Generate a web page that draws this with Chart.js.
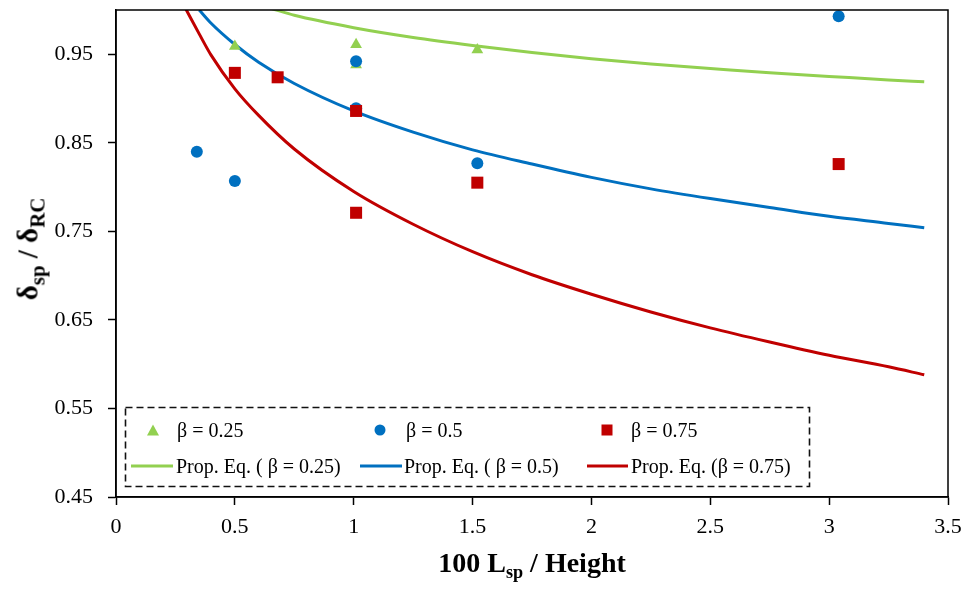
<!DOCTYPE html>
<html>
<head>
<meta charset="utf-8">
<script src="https://cdn.jsdelivr.net/npm/chart.js@4.4.1/dist/chart.umd.min.js"></script>
<style>
  html, body { margin: 0; padding: 0; background: #fff; }
  #wrap { position: relative; width: 972px; height: 592px; font-family: "Liberation Serif", "Times New Roman", serif; }
  canvas { position: absolute; left: 0; top: 0; }
  .ytitle { position: absolute; left: 28px; top: 249px; transform: translate(-50%, -50%) rotate(-90deg); font-weight: bold; font-size: 29px; white-space: nowrap; color: #000; }
  .ytitle sub { font-size: 72%; }
  .xtitle { position: absolute; left: 532px; top: 563px; transform: translate(-50%, -50%); font-weight: bold; font-size: 28px; white-space: nowrap; color: #000; }
  sub { font-size: 65%; vertical-align: -0.35em; line-height: 0; }
  #legend { position: absolute; left: 125px; top: 407px; width: 684px; height: 79px; font-size: 20px; color: #000; }
  .item { position: absolute; white-space: nowrap; transform: translateY(-50%); }
  .mark { position: absolute; transform: translate(-50%, -50%); }
  .ln { position: absolute; height: 3px; transform: translateY(-50%); }
</style>
</head>
<body>
<div id="wrap">
  <canvas id="c" width="972" height="592"></canvas>
  <div class="ytitle">δ<sub>sp</sub> / δ<sub>RC</sub></div>
  <div class="xtitle">100 L<sub>sp</sub> / Height</div>
  <div id="legend"></div>
</div>
<script>
// ---- Data ----
const xTicks = [0, 0.5, 1, 1.5, 2, 2.5, 3, 3.5];
const yTicks = [0.45, 0.55, 0.65, 0.75, 0.85, 0.95];

// Test points
const b025X = [0.50, 1.01, 1.01, 1.52];
const b025Y = [0.959, 0.961, 0.938, 0.955];
const b05X  = [0.34, 0.50, 1.01, 1.01, 1.52, 3.04];
const b05Y  = [0.840, 0.807, 0.942, 0.889, 0.827, 0.993];
const b075X = [0.50, 0.68, 1.01, 1.01, 1.52, 3.04];
const b075Y = [0.929, 0.924, 0.886, 0.771, 0.805, 0.826];

// Proposed-equation curves
const eq025X = [0.65, 0.75, 1.0, 1.25, 1.5, 1.75, 2.0, 2.25, 2.5, 2.75, 3.0, 3.25, 3.4];
const eq025Y = [1.002, 0.994, 0.980, 0.969, 0.960, 0.952, 0.945, 0.939, 0.934, 0.929, 0.925, 0.921, 0.919];
const eq05X  = [0.35, 0.4, 0.5, 0.6, 0.75, 1.0, 1.25, 1.5, 1.75, 2.0, 2.25, 2.5, 2.75, 3.0, 3.25, 3.4];
const eq05Y  = [1.000, 0.985, 0.961, 0.941, 0.917, 0.886, 0.862, 0.842, 0.826, 0.811, 0.798, 0.787, 0.777, 0.767, 0.759, 0.754];
const eq075X = [0.29, 0.35, 0.4, 0.5, 0.6, 0.75, 1.0, 1.25, 1.5, 1.75, 2.0, 2.25, 2.5, 2.75, 3.0, 3.25, 3.4];
const eq075Y = [1.003, 0.973, 0.949, 0.911, 0.881, 0.843, 0.795, 0.758, 0.727, 0.701, 0.679, 0.659, 0.641, 0.625, 0.610, 0.597, 0.588];

const GREEN = '#92D050', BLUE = '#0070C0', RED = '#C00000';
const pts = (xs, ys) => xs.map((x, i) => ({ x: x, y: ys[i] }));

const boxPlugin = {
  id: 'box',
  afterDraw(chart) {
    const a = chart.chartArea, ctx = chart.ctx;
    ctx.save();
    ctx.strokeStyle = '#000';
    ctx.lineWidth = 1.5;
    ctx.strokeRect(a.left, a.top, a.right - a.left, a.bottom - a.top);
    // dashed legend frame
    ctx.lineWidth = 1.6;
    ctx.setLineDash([7, 4]);
    ctx.strokeStyle = '#111';
    ctx.strokeRect(125.5, 407.5, 684, 79);
    ctx.restore();
  }
};

new Chart(document.getElementById('c'), {
  type: 'scatter',
  data: {
    datasets: [
      { label: 'β = 0.75', data: pts(b075X, b075Y), order: 0, pointStyle: 'rect', pointRadius: 8.5, backgroundColor: RED, borderColor: RED, borderWidth: 0, showLine: false },
      { label: 'β = 0.5', data: pts(b05X, b05Y), order: 1, pointStyle: 'circle', pointRadius: 6, backgroundColor: BLUE, borderColor: BLUE, borderWidth: 0, showLine: false },
      { label: 'β = 0.25', data: pts(b025X, b025Y), order: 2, pointStyle: 'triangle', pointRadius: 6.8, backgroundColor: GREEN, borderColor: GREEN, borderWidth: 0, showLine: false },
      { label: 'Prop. Eq. ( β = 0.25)', data: pts(eq025X, eq025Y), order: 3, showLine: true, pointRadius: 0, borderColor: GREEN, borderWidth: 3, cubicInterpolationMode: 'monotone' },
      { label: 'Prop. Eq. ( β = 0.5)', data: pts(eq05X, eq05Y), order: 4, showLine: true, pointRadius: 0, borderColor: BLUE, borderWidth: 3, cubicInterpolationMode: 'monotone' },
      { label: 'Prop. Eq. (β = 0.75)', data: pts(eq075X, eq075Y), order: 5, showLine: true, pointRadius: 0, borderColor: RED, borderWidth: 3, cubicInterpolationMode: 'monotone' }
    ]
  },
  options: {
    responsive: false,
    animation: false,
    layout: { padding: { left: 0, top: 10, right: 24, bottom: 0 } },
    plugins: { legend: { display: false }, tooltip: { enabled: false } },
    scales: {
      x: {
        type: 'linear', min: 0, max: 3.5,
        afterBuildTicks: s => { s.ticks = xTicks.map(v => ({ value: v })); },
        afterFit: s => { s.height = 95; s.paddingLeft = 0; s.paddingRight = 0; },
        border: { display: true, color: '#000', width: 1.5 },
        grid: { drawOnChartArea: false, drawTicks: true, tickLength: 8, color: '#000', tickColor: '#000', tickWidth: 1.5 },
        ticks: { color: '#000', padding: 9, maxRotation: 0, font: { family: '"Liberation Serif", serif', size: 22 },
                 callback: v => String(v) }
      },
      y: {
        type: 'linear', min: 0.45, max: 1.0,
        afterBuildTicks: s => { s.ticks = yTicks.map(v => ({ value: v })); },
        afterFit: s => { s.width = 116; s.paddingTop = 0; s.paddingBottom = 0; },
        border: { display: true, color: '#000', width: 1.5 },
        grid: { drawOnChartArea: false, drawTicks: true, tickLength: 8, color: '#000', tickColor: '#000', tickWidth: 1.5 },
        ticks: { color: '#000', padding: 15, font: { family: '"Liberation Serif", serif', size: 22 },
                 callback: v => Number(v).toFixed(2) }
      }
    }
  },
  plugins: [boxPlugin]
});

// ---- HTML legend (inside plot area) ----
const legend = document.getElementById('legend');
const legendItems = [
  { kind: 'tri', color: GREEN, text: 'β = 0.25', mx: 28, tx: 52, y: 23 },
  { kind: 'circ', color: BLUE, text: 'β = 0.5', mx: 255, tx: 281, y: 23 },
  { kind: 'sq', color: RED, text: 'β = 0.75', mx: 482, tx: 506, y: 23 },
  { kind: 'line', color: GREEN, text: 'Prop. Eq. ( β = 0.25)', lx: 6, lw: 42, tx: 51, y: 59 },
  { kind: 'line', color: BLUE, text: 'Prop. Eq. ( β = 0.5)', lx: 235, lw: 42, tx: 279, y: 59 },
  { kind: 'line', color: RED, text: 'Prop. Eq. (β = 0.75)', lx: 462, lw: 41, tx: 506, y: 59 }
];
legendItems.forEach(it => {
  if (it.kind === 'line') {
    const l = document.createElement('div');
    l.className = 'ln';
    l.style.left = it.lx + 'px'; l.style.top = it.y + 'px'; l.style.width = it.lw + 'px'; l.style.background = it.color;
    legend.appendChild(l);
  } else {
    const m = document.createElement('div');
    m.className = 'mark';
    m.style.left = it.mx + 'px'; m.style.top = it.y + 'px';
    if (it.kind === 'tri') {
      m.style.width = '0'; m.style.height = '0';
      m.style.borderLeft = '6px solid transparent'; m.style.borderRight = '6px solid transparent';
      m.style.borderBottom = '11px solid ' + it.color;
    } else if (it.kind === 'circ') {
      m.style.width = '11px'; m.style.height = '11px'; m.style.borderRadius = '50%'; m.style.background = it.color;
    } else {
      m.style.width = '11px'; m.style.height = '11px'; m.style.background = it.color;
    }
    legend.appendChild(m);
  }
  const t = document.createElement('div');
  t.className = 'item';
  t.style.left = it.tx + 'px'; t.style.top = it.y + 'px';
  t.textContent = it.text;
  legend.appendChild(t);
});
</script>
</body>
</html>
